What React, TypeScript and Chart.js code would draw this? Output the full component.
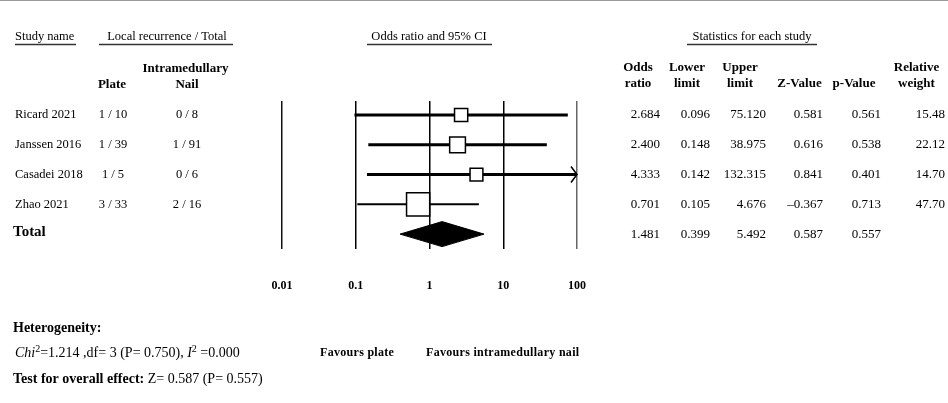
import React, { useEffect, useRef } from 'react';
import { Chart, registerables } from 'chart.js';

Chart.register(...registerables);

// ---------- data ----------
const studies = ['Ricard 2021', 'Janssen 2016', 'Casadei 2018', 'Zhao 2021'];
const plateEvents = [1, 1, 1, 3];
const plateTotal = [10, 39, 5, 33];
const nailEvents = [0, 1, 0, 2];
const nailTotal = [8, 91, 6, 16];
const oddsRatio = [2.684, 2.4, 4.333, 0.701];
const lowerLimit = [0.096, 0.148, 0.142, 0.105];
const upperLimit = [75.12, 38.975, 132.315, 4.676];
const zValue = [0.581, 0.616, 0.841, -0.367];
const pValue = [0.561, 0.538, 0.401, 0.713];
const relWeight = [15.48, 22.12, 14.7, 47.7];

const totalOR = 1.481;
const totalLower = 0.399;
const totalUpper = 5.492;
const totalZ = 0.587;
const totalP = 0.557;

const tickValues = [0.01, 0.1, 1, 10, 100];
const tickLabels = ['0.01', '0.1', '1', '10', '100'];

const heterogeneityChi = '1.214';
const heterogeneityDf = '3';
const heterogeneityP = '0.750';
const heterogeneityI2 = '0.000';

// ---------- style ----------
const SERIF = '"Liberation Serif", "Times New Roman", serif';
const X_MIN = 0.01;
const X_MAX = 100;
const BOX_SCALE = 3.35;
const DIAMOND_HALF = 0.42;
const TOTAL_ROW = studies.length;
const GRID_COLORS = ['#111', '#000', '#000', '#000', '#666'];

const fmt3 = (v: number) => (v < 0 ? '\u2013' + Math.abs(v).toFixed(3) : v.toFixed(3));

const textPlugin = {
  id: 'forestText',
  afterDraw(chart: any) {
    const ctx: CanvasRenderingContext2D = chart.ctx;
    const ys = chart.scales.y;
    const xs = chart.scales.x;
    ctx.save();
    ctx.fillStyle = '#000';
    ctx.textBaseline = 'middle';

    // top rule
    ctx.strokeStyle = '#999';
    ctx.lineWidth = 1;
    ctx.beginPath();
    ctx.moveTo(0, 0.5);
    ctx.lineTo(948, 0.5);
    ctx.stroke();

    // headers
    const norm = `13px ${SERIF}`;
    const bold = `bold 13px ${SERIF}`;
    ctx.font = `12.5px ${SERIF}`;
    ctx.textAlign = 'left';
    ctx.fillText('Study name', 15, 37);
    ctx.textAlign = 'center';
    ctx.fillText('Local recurrence / Total', 167, 37);
    ctx.fillText('Odds ratio and 95% CI', 429, 37);
    ctx.fillText('Statistics for each study', 752, 37);

    ctx.strokeStyle = '#333';
    ctx.lineWidth = 1.5;
    const rules: [number, number][] = [
      [15, 76],
      [99, 233],
      [367, 492],
      [687, 817],
    ];
    rules.forEach(([a, b]) => {
      ctx.beginPath();
      ctx.moveTo(a, 44.5);
      ctx.lineTo(b, 44.5);
      ctx.stroke();
    });

    ctx.font = bold;
    ctx.fillText('Plate', 112, 85);
    ctx.fillText('Intramedullary', 185.5, 69);
    ctx.fillText('Nail', 187, 85);

    const statCenters = [638, 687, 740, 799.5, 854, 916.5];
    const statTop = ['Odds', 'Lower', 'Upper', '', '', 'Relative'];
    const statBottom = ['ratio', 'limit', 'limit', 'Z-Value', 'p-Value', 'weight'];
    statCenters.forEach((cx, i) => {
      if (statTop[i]) ctx.fillText(statTop[i], cx, 68);
      ctx.fillText(statBottom[i], cx, 84);
    });

    // rows
    const rights = [660, 710, 766, 823, 881, 945];
    studies.forEach((s, i) => {
      const y = ys.getPixelForValue(i);
      ctx.font = `12.5px ${SERIF}`;
      ctx.textAlign = 'left';
      ctx.fillText(s, 15, y);
      ctx.textAlign = 'center';
      ctx.fillText(`${plateEvents[i]} / ${plateTotal[i]}`, 113, y);
      ctx.fillText(`${nailEvents[i]} / ${nailTotal[i]}`, 187, y);
      ctx.font = norm;
      ctx.textAlign = 'right';
      const vals = [
        fmt3(oddsRatio[i]),
        fmt3(lowerLimit[i]),
        fmt3(upperLimit[i]),
        fmt3(zValue[i]),
        fmt3(pValue[i]),
        relWeight[i].toFixed(2),
      ];
      vals.forEach((v, j) => ctx.fillText(v, rights[j], y));
    });
    const ty = ys.getPixelForValue(TOTAL_ROW);
    ctx.font = `bold 15px ${SERIF}`;
    ctx.textAlign = 'left';
    ctx.fillText('Total', 13, ty - 2);
    ctx.font = norm;
    ctx.textAlign = 'right';
    [totalOR, totalLower, totalUpper, totalZ, totalP].forEach((v, j) =>
      ctx.fillText(fmt3(v), rights[j], ty)
    );

    // arrows for CIs beyond axis max
    ctx.strokeStyle = '#000';
    ctx.lineWidth = 1.5;
    studies.forEach((_, i) => {
      if (upperLimit[i] > X_MAX) {
        const x = xs.getPixelForValue(X_MAX);
        const y = ys.getPixelForValue(i);
        ctx.beginPath();
        ctx.moveTo(x - 6, y - 8);
        ctx.lineTo(x, y);
        ctx.lineTo(x - 6, y + 8);
        ctx.stroke();
      }
    });

    // footer
    ctx.textAlign = 'left';
    ctx.font = `bold 14px ${SERIF}`;
    ctx.fillText('Heterogeneity:', 13, 328);

    let x = 15;
    const cy = 353;
    const put = (t: string, f: string, dy = 0) => {
      ctx.font = f;
      ctx.fillText(t, x, cy + dy);
      x += ctx.measureText(t).width;
    };
    const reg = `14px ${SERIF}`;
    const ita = `italic 14px ${SERIF}`;
    const sup = `10px ${SERIF}`;
    put('Chi', ita);
    put('2', sup, -4);
    put(`=${heterogeneityChi} ,df= ${heterogeneityDf} (P= ${heterogeneityP}), `, reg);
    put('I', ita);
    put('2', sup, -4);
    put(` =${heterogeneityI2}`, reg);

    x = 13;
    const cy2 = 379;
    ctx.font = `bold 14px ${SERIF}`;
    const lead = 'Test for overall effect: ';
    ctx.fillText(lead, x, cy2);
    x += ctx.measureText(lead).width;
    ctx.font = reg;
    ctx.fillText(`Z= ${totalZ.toFixed(3)} (P= ${totalP.toFixed(3)})`, x, cy2);

    ctx.font = `bold 12px ${SERIF}`;
    (ctx as any).letterSpacing = '0.3px';
    ctx.fillText('Favours plate', 320, 353);
    ctx.fillText('Favours intramedullary nail', 426, 353);
    ctx.restore();
  },
};

export default function App() {
  const ref = useRef<HTMLCanvasElement>(null);

  useEffect(() => {
    const canvas = ref.current;
    if (!canvas) return;

    const ciSets = studies.map((_, i) => ({
      label: `ci-${i}`,
      data: [
        { x: lowerLimit[i], y: i },
        { x: Math.min(upperLimit[i], X_MAX), y: i },
      ],
      showLine: true,
      borderColor: '#000',
      borderWidth: relWeight[i] > 40 ? 2 : 3,
      pointRadius: 0,
      order: 2,
    }));

    const boxSet = {
      label: 'boxes',
      data: studies.map((_, i) => ({ x: oddsRatio[i], y: i })),
      pointStyle: 'rect',
      pointRadius: relWeight.map((w) => (BOX_SCALE * Math.sqrt(w)) / Math.SQRT2),
      backgroundColor: '#fff',
      borderColor: '#000',
      borderWidth: 1.5,
      order: 0,
    };

    const diamondSet = {
      label: 'total',
      data: [
        { x: totalLower, y: TOTAL_ROW },
        { x: totalOR, y: TOTAL_ROW - DIAMOND_HALF },
        { x: totalUpper, y: TOTAL_ROW },
        { x: totalOR, y: TOTAL_ROW + DIAMOND_HALF },
        { x: totalLower, y: TOTAL_ROW },
      ],
      showLine: true,
      fill: 'shape',
      backgroundColor: '#000',
      borderColor: '#000',
      borderWidth: 1,
      pointRadius: 0,
      tension: 0,
      order: 1,
    };

    const chart = new Chart(canvas, {
      type: 'scatter',
      data: { datasets: [...ciSets, boxSet, diamondSet] as any },
      options: {
        responsive: false,
        animation: false,
        events: [],
        layout: { padding: { left: 282, right: 371, top: 101, bottom: 0 } },
        plugins: { legend: { display: false }, tooltip: { enabled: false } },
        scales: {
          x: {
            type: 'logarithmic',
            min: X_MIN,
            max: X_MAX,
            position: 'bottom',
            afterBuildTicks: (axis: any) => {
              axis.ticks = tickValues.map((v) => ({ value: v }));
            },
            afterFit: (axis: any) => {
              axis.height = 154;
            },
            grid: {
              color: (c: any) => GRID_COLORS[c.index] ?? '#000',
              lineWidth: 1.5,
              drawTicks: false,
            },
            border: { display: false },
            ticks: {
              autoSkip: false,
              maxRotation: 0,
              padding: 30,
              color: '#000',
              font: { family: SERIF, size: 12, weight: 'bold' },
              callback: (_v: any, idx: number) => tickLabels[idx],
            },
          },
          y: {
            type: 'linear',
            min: -0.47,
            max: 4.5,
            reverse: true,
            display: false,
          },
        },
      },
      plugins: [textPlugin],
    } as any);

    return () => chart.destroy();
  }, []);

  return (
    <div style={{ position: 'absolute', left: 0, top: 0, width: 948, height: 403, background: '#fff' }}>
      <canvas ref={ref} width={948} height={403} style={{ display: 'block', width: 948, height: 403 }} />
    </div>
  );
}
